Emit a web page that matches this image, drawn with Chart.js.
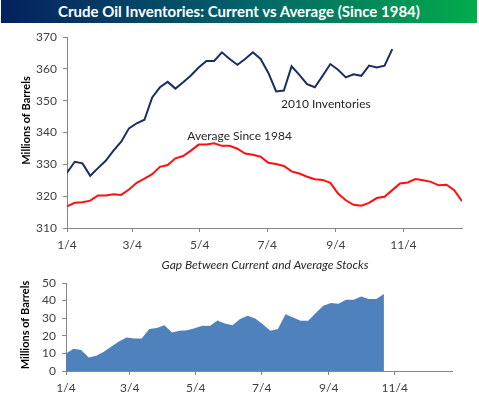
<!DOCTYPE html>
<html>
<head>
<meta charset="utf-8">
<script src="https://cdn.jsdelivr.net/npm/chart.js@4"></script>
<style>
  html, body { margin: 0; padding: 0; background: #ffffff; }
  #wrap { position: relative; width: 479px; height: 396px; overflow: hidden; }
  #banner {
    position: absolute; left: 1px; top: 0; width: 476px; height: 23px;
    background: linear-gradient(90deg, #05205f 0%, #03606a 50%, #03ac4c 100%);
    color: #ffffff; font: bold 15px Lato, sans-serif; text-align: center; line-height: 23px;
  }
  #top { position: absolute; left: 0; top: 23px; }
  #bottom { position: absolute; left: 0; top: 255px; }
</style>
</head>
<body>
<div id="wrap">
  <div id="banner">Crude Oil Inventories: Current vs Average (Since 1984)</div>
  <canvas id="top" width="479" height="240"></canvas>
  <canvas id="bottom" width="479" height="141"></canvas>
</div>
<script>
// ---------- data (weekly, starting 1/4) ----------

const tickDays = [0, 59, 120, 181, 243, 304];
const tickLabels = ["1/4", "3/4", "5/4", "7/4", "9/4", "11/4"];

// 2010 inventories, millions of barrels
const current = [
  327.4, 330.8, 330.3, 326.4, 328.8, 331.1, 334.3, 337.1, 341.3, 342.9,
  344.0, 351.0, 354.2, 355.9, 353.8, 355.8, 357.9, 360.4, 362.5, 362.5,
  365.2, 363.1, 361.3, 363.1, 365.2, 363.1, 358.7, 352.9, 353.2, 360.8,
  358.1, 355.2, 354.2, 357.8, 361.5, 359.7, 357.3, 358.3, 357.8, 361.0,
  360.4, 361.0, 366.2
];

// average since 1984
const average = [
  316.8, 317.9, 318.1, 318.6, 320.2, 320.2, 320.6, 320.4, 322.1, 324.2,
  325.5, 326.9, 329.2, 329.8, 331.9, 332.6, 334.3, 336.2, 336.2, 336.6,
  335.8, 335.8, 334.9, 333.4, 333.0, 332.4, 330.5, 330.1, 329.5, 327.8,
  327.1, 326.1, 325.3, 325.1, 324.2, 320.8, 318.7, 317.3, 317.0, 317.9,
  319.4, 319.8, 321.9, 324.0, 324.3, 325.4, 325.0, 324.5, 323.4, 323.6,
  321.9, 318.4
];

// gap between current and average
const gap = [
  9.9, 12.7, 12.0, 7.6, 8.6, 11.0, 13.9, 16.7, 19.0, 18.4,
  18.4, 23.8, 24.5, 26.0, 21.9, 22.8, 23.2, 24.3, 25.7, 25.5,
  28.7, 27.0, 26.0, 29.5, 31.4, 29.8, 26.6, 22.8, 23.8, 32.3,
  30.4, 28.5, 28.5, 32.9, 37.1, 38.6, 38.2, 40.5, 40.5, 42.4,
  40.9, 40.9, 43.7
];

const lastDay = (average.length - 1) * 7;

// ---------- helpers ----------

const FONT = "Lato, 'Open Sans', sans-serif";
const AXIS = "#868686";
const TEXT = "#404040";

function toPoints(values) {
  return values.map((v, i) => ({ x: i * 7, y: v }));
}

const notesPlugin = {
  id: "notes",
  afterDatasetsDraw(chart, args, opts) {
    const { ctx, chartArea, scales } = chart;
    ctx.save();
    ctx.fillStyle = "#262626";
    ctx.textAlign = "center";
    ctx.textBaseline = "middle";

    (opts.labels || []).forEach(n => {
      ctx.font = n.font;
      ctx.fillText(
        n.text,
        scales.x.getPixelForValue(n.x),
        scales.y.getPixelForValue(n.y)
      );
    });

    if (opts.title) {
      ctx.font = "italic 12px " + FONT;
      ctx.fillText(opts.title, opts.titleX, opts.titleY);
    }

    // rotated y axis title
    ctx.font = "bold 11px " + FONT;
    ctx.fillStyle = "#000000";
    ctx.translate(
      chartArea.left - 41,
      (chartArea.top + chartArea.bottom) / 2 + opts.yTitleShift
    );
    ctx.rotate(-Math.PI / 2);
    ctx.fillText("Millions of Barrels", 0, 0);
    ctx.restore();
  }
};

function xScale(height) {
  return {
    type: "linear",
    min: 0,
    max: lastDay,
    afterBuildTicks: s => {
      s.ticks = tickDays.map(v => ({ value: v }));
    },
    afterFit: s => { s.height = height; },
    ticks: {
      color: TEXT,
      font: { family: FONT, size: 12 },
      padding: 6,
      maxRotation: 0,
      callback: (v, i) => tickLabels[i]
    },
    grid: { drawOnChartArea: false, color: AXIS, tickLength: 4 },
    border: { color: AXIS }
  };
}

function yScale(min, max, width) {
  return {
    min: min,
    max: max,
    afterFit: s => { s.width = width; },
    ticks: {
      stepSize: 10,
      color: TEXT,
      font: { family: FONT, size: 12 },
      padding: 6
    },
    grid: { drawOnChartArea: false, color: AXIS, tickLength: 4 },
    border: { color: AXIS }
  };
}

// ---------- top chart ----------

new Chart(document.getElementById("top"), {
  type: "line",
  data: {
    datasets: [
      {
        label: "2010 Inventories",
        data: toPoints(current),
        borderColor: "#1b2d63",
        borderWidth: 2,
        pointRadius: 0,
        tension: 0
      },
      {
        label: "Average Since 1984",
        data: toPoints(average),
        borderColor: "#ff1010",
        borderWidth: 2,
        pointRadius: 0,
        tension: 0
      }
    ]
  },
  options: {
    responsive: false,
    animation: false,
    layout: { padding: { top: 14, right: 17, bottom: 5, left: 0 } },
    plugins: {
      legend: { display: false },
      tooltip: { enabled: false },
      notes: {
        yTitleShift: -12,
        labels: [
          { text: "2010 Inventories", x: 234, y: 349, font: "12px " + FONT },
          { text: "Average Since 1984", x: 156, y: 339, font: "12px " + FONT }
        ]
      }
    },
    scales: {
      x: xScale(30),
      y: yScale(310, 370, 67)
    }
  },
  plugins: [notesPlugin]
});

// ---------- bottom chart ----------

new Chart(document.getElementById("bottom"), {
  type: "line",
  data: {
    datasets: [
      {
        label: "Gap",
        data: toPoints(gap),
        borderWidth: 0,
        borderColor: "#4f81bd",
        backgroundColor: "#4f81bd",
        fill: "origin",
        pointRadius: 0,
        tension: 0
      }
    ]
  },
  options: {
    responsive: false,
    animation: false,
    layout: { padding: { top: 28, right: 27, bottom: 3, left: 0 } },
    plugins: {
      legend: { display: false },
      tooltip: { enabled: false },
      notes: {
        yTitleShift: -2,
        title: "Gap Between Current and Average Stocks",
        titleX: 265,
        titleY: 10
      }
    },
    scales: {
      x: xScale(22),
      y: yScale(0, 50, 66)
    }
  },
  plugins: [notesPlugin]
});
</script>
</body>
</html>
